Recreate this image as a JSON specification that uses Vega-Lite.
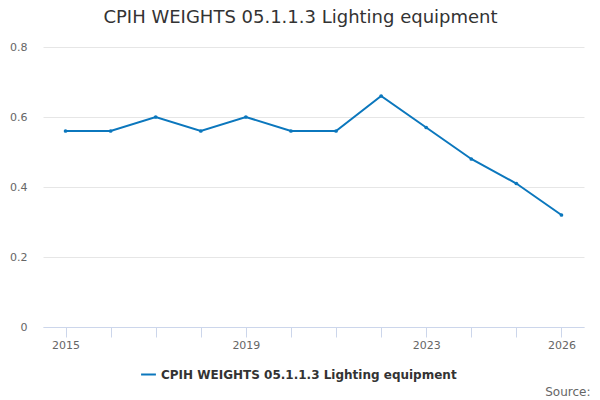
{
  "$schema": "https://vega.github.io/schema/vega-lite/v6.json",
  "autosize": "none",
  "width": 541,
  "height": 280,
  "padding": {"left": 43, "top": 47, "right": 16, "bottom": 73},
  "background": "white",
  "config": {
    "font": "DejaVu Sans",
    "view": {"stroke": null},
    "axis": {"labelFont": "DejaVu Sans", "labelColor": "#666666", "labelFontSize": 11, "domain": false, "ticks": false}
  },
  "title": {"text": "CPIH WEIGHTS 05.1.1.3 Lighting equipment", "fontSize": 18, "fontWeight": "normal", "color": "#333333", "offset": 14, "dx": -13},
  "data": {
    "values": [
      {"year": 2015, "weight": 0.56, "series": "CPIH WEIGHTS 05.1.1.3 Lighting equipment"},
      {"year": 2016, "weight": 0.56, "series": "CPIH WEIGHTS 05.1.1.3 Lighting equipment"},
      {"year": 2017, "weight": 0.60, "series": "CPIH WEIGHTS 05.1.1.3 Lighting equipment"},
      {"year": 2018, "weight": 0.56, "series": "CPIH WEIGHTS 05.1.1.3 Lighting equipment"},
      {"year": 2019, "weight": 0.60, "series": "CPIH WEIGHTS 05.1.1.3 Lighting equipment"},
      {"year": 2020, "weight": 0.56, "series": "CPIH WEIGHTS 05.1.1.3 Lighting equipment"},
      {"year": 2021, "weight": 0.56, "series": "CPIH WEIGHTS 05.1.1.3 Lighting equipment"},
      {"year": 2022, "weight": 0.66, "series": "CPIH WEIGHTS 05.1.1.3 Lighting equipment"},
      {"year": 2023, "weight": 0.57, "series": "CPIH WEIGHTS 05.1.1.3 Lighting equipment"},
      {"year": 2024, "weight": 0.48, "series": "CPIH WEIGHTS 05.1.1.3 Lighting equipment"},
      {"year": 2025, "weight": 0.41, "series": "CPIH WEIGHTS 05.1.1.3 Lighting equipment"},
      {"year": 2026, "weight": 0.32, "series": "CPIH WEIGHTS 05.1.1.3 Lighting equipment"}
    ]
  },
  "mark": {"type": "line", "strokeWidth": 2, "point": {"size": 14, "filled": true}},
  "encoding": {
    "x": {
      "field": "year", "type": "quantitative",
      "scale": {"domain": [2014.5, 2026.5], "nice": false, "zero": false},
      "axis": {
        "values": [2015, 2016, 2017, 2018, 2019, 2020, 2021, 2022, 2023, 2024, 2025, 2026],
        "format": "d",
        "labelExpr": "indexof([2015, 2019, 2023, 2026], datum.value) >= 0 ? datum.label : ''",
        "grid": false,
        "domain": true, "domainColor": "#ccd6eb", "domainWidth": 1,
        "ticks": true, "tickColor": "#ccd6eb", "tickSize": 10, "tickWidth": 1,
        "labelPadding": 2, "labelFlush": false,
        "title": "Source:", "titleFont": "DejaVu Sans", "titleFontSize": 12, "titleFontWeight": "normal", "titleColor": "#666666",
        "titleAnchor": "end", "titleAlign": "right", "titleBaseline": "alphabetic", "titleX": 547, "titleY": 68
      }
    },
    "y": {
      "field": "weight", "type": "quantitative",
      "scale": {"domain": [0, 0.8], "nice": false},
      "axis": {
        "values": [0, 0.2, 0.4, 0.6, 0.8],
        "labelExpr": "datum.value == 0 ? '0' : format(datum.value, '.1f')",
        "grid": true, "gridColor": "#e6e6e6", "gridWidth": 1,
        "labelPadding": 16, "title": null
      }
    },
    "color": {
      "field": "series", "type": "nominal",
      "scale": {"range": ["#0b77bd"]},
      "legend": {
        "title": null, "orient": "none", "legendX": 97, "legendY": 319,
        "symbolType": "stroke", "symbolStrokeWidth": 2, "symbolSize": 220,
        "labelFont": "DejaVu Sans", "labelFontSize": 12, "labelFontWeight": "bold", "labelColor": "#333333",
        "labelLimit": 0, "labelOffset": 4
      }
    }
  }
}
